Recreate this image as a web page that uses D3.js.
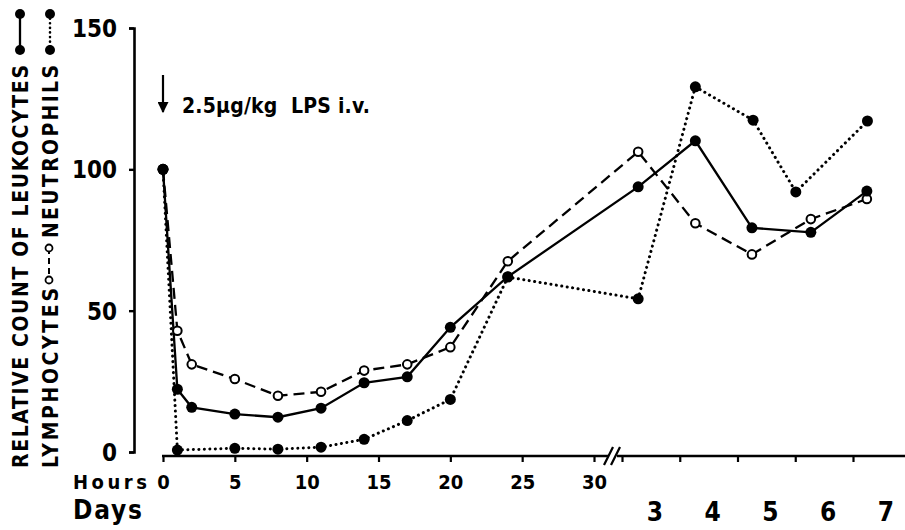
<!DOCTYPE html>
<html>
<head>
<meta charset="utf-8">
<script src="https://cdn.jsdelivr.net/npm/d3@7"></script>
<style>
  body { margin: 0; background: #fff; }
  svg text { font-family: 'DejaVu Sans Condensed', 'DejaVu Sans', sans-serif; font-weight: bold; }
</style>
</head>
<body>
<div id="chart"></div>
<script>
// values (relative count, start = 100)
const hourTicks = [0, 5, 10, 15, 20, 25, 30];
const dayTicks = [3, 4, 5, 6, 7];
const dayLabels = ['3', '4', '5', '6', '7'];
const yTicks = [0, 50, 100, 150];

const leukHours = [0, 1, 2, 5, 8, 11, 14, 17, 20, 24];
const leukHourValues = [100, 22.2, 15.8, 13.4, 12.3, 15.5, 24.5, 26.6, 44.1, 62.0];
const leukDays = [3.28, 4.27, 5.25, 6.27, 7.24];
const leukDayValues = [93.8, 110.1, 79.3, 77.7, 92.3];

const lymphHours = [0, 1, 2, 5, 8, 11, 14, 17, 20, 24];
const lymphHourValues = [100, 42.9, 31.0, 25.8, 19.9, 21.3, 28.8, 31.0, 37.1, 67.5];
const lymphDays = [3.28, 4.27, 5.25, 6.27, 7.24];
const lymphDayValues = [106.2, 80.9, 69.9, 82.4, 89.5];

const neutHours = [0, 1, 5, 8, 11, 14, 17, 20, 24];
const neutHourValues = [100, 0.7, 1.3, 1.0, 1.7, 4.5, 11.1, 18.6, 61.9];
const neutDays = [3.28, 4.27, 5.27, 6.01, 7.25];
const neutDayValues = [54.2, 129.2, 117.4, 92.0, 117.1];

const width = 905, height = 530;

const svg = d3.select('#chart').append('svg')
  .attr('width', width)
  .attr('height', height);

const xHours = d3.scaleLinear().domain([0, 30]).range([163, 594]);
const xDays = d3.scaleLinear().domain([3, 8]).range([622, 910.75]);
const y = d3.scaleLinear().domain([0, 150]).range([452, 28]);

const toPoints = (hrs, hv, days, dv) =>
  hrs.map((t, i) => ({ x: xHours(t), v: hv[i] }))
    .concat(days.map((t, i) => ({ x: xDays(t), v: dv[i] })));

const series = [
  { name: 'lymph', pts: toPoints(lymphHours, lymphHourValues, lymphDays, lymphDayValues), dash: '11,6', open: true },
  { name: 'neut', pts: toPoints(neutHours, neutHourValues, neutDays, neutDayValues), dash: '0.1,5.4', open: false },
  { name: 'leuk', pts: toPoints(leukHours, leukHourValues, leukDays, leukDayValues), dash: null, open: false }
];

// y axis
const yAxis = svg.append('g')
  .attr('transform', 'translate(134,0)')
  .call(d3.axisLeft(y).tickValues(yTicks).tickSize(5).tickSizeOuter(5).tickPadding(12));
yAxis.select('.domain').attr('stroke-width', 2.6);
yAxis.selectAll('.tick line').attr('stroke-width', 2.4);
yAxis.selectAll('text')
  .style('font-size', '24px')
  .attr('dy', '0.36em')
  .attr('fill', '#000');

// x axis, hours part
const xAxisH = svg.append('g')
  .attr('transform', 'translate(0,456)')
  .call(d3.axisBottom(xHours).tickValues(hourTicks).tickSize(6));
xAxisH.select('.domain').remove();
xAxisH.selectAll('.tick line').attr('stroke-width', 2.2);
xAxisH.selectAll('text')
  .attr('y', 33).attr('dy', 0)
  .style('font-size', '20px')
  .attr('fill', '#000');

// x axis, days part
const xAxisD = svg.append('g')
  .attr('transform', 'translate(0,456)')
  .call(d3.axisBottom(xDays).tickValues(dayTicks).tickSize(6).tickFormat(''));
xAxisD.select('.domain').remove();
xAxisD.selectAll('.tick line').attr('stroke-width', 2.2);

// axis line with break
svg.append('line').attr('x1', 162).attr('x2', 609).attr('y1', 456).attr('y2', 456)
  .attr('stroke', '#000').attr('stroke-width', 2.6);
svg.append('line').attr('x1', 617).attr('x2', 905).attr('y1', 456).attr('y2', 456)
  .attr('stroke', '#000').attr('stroke-width', 2.6);
[0, 7].forEach(o => {
  svg.append('line')
    .attr('x1', 604 + o).attr('y1', 465).attr('x2', 613 + o).attr('y2', 447)
    .attr('stroke', '#000').attr('stroke-width', 2.2);
});

svg.append('text')
  .attr('x', 73).attr('y', 489)
  .style('font-size', '20px')
  .attr('textLength', 74)
  .attr('lengthAdjust', 'spacing')
  .text('Hours');

svg.append('text')
  .attr('x', 73).attr('y', 519)
  .style('font-size', '26px')
  .attr('textLength', 69)
  .attr('lengthAdjust', 'spacing')
  .text('Days');

svg.selectAll('.dayLabel')
  .data(dayTicks)
  .enter().append('text')
  .attr('class', 'dayLabel')
  .attr('x', d => xDays(d + 0.57))
  .attr('y', 521)
  .attr('text-anchor', 'middle')
  .style('font-size', '26px')
  .text((d, i) => dayLabels[i]);

// LPS annotation
const defs = svg.append('defs');
defs.append('marker')
  .attr('id', 'arr')
  .attr('viewBox', '0 0 10 10')
  .attr('refX', 9).attr('refY', 5)
  .attr('markerWidth', 5).attr('markerHeight', 5)
  .attr('orient', 'auto')
  .append('path').attr('d', 'M0,0 L10,5 L0,10 Z').attr('fill', '#000');
svg.append('line')
  .attr('x1', xHours(0)).attr('y1', 75)
  .attr('x2', xHours(0)).attr('y2', 112)
  .attr('stroke', '#000').attr('stroke-width', 2.2)
  .attr('marker-end', 'url(#arr)');
svg.append('text')
  .attr('x', 182).attr('y', 113)
  .style('font-size', '21px')
  .attr('textLength', 188)
  .attr('lengthAdjust', 'spacing')
  .attr('xml:space', 'preserve')
  .text('2.5\u00b5g/kg  LPS i.v.');

// lines
const line = d3.line().x(d => d.x).y(d => y(d.v));
series.forEach(s => {
  svg.append('path')
    .datum(s.pts)
    .attr('d', line)
    .attr('fill', 'none')
    .attr('stroke', '#000')
    .attr('stroke-width', s.name === 'neut' ? 3 : 2.3)
    .attr('stroke-linecap', s.name === 'neut' ? 'round' : 'butt')
    .attr('stroke-dasharray', s.dash);
});

// markers: open circles first, filled on top
series.forEach(s => {
  svg.append('g').selectAll('circle')
    .data(s.pts)
    .enter().append('circle')
    .attr('cx', d => d.x)
    .attr('cy', d => y(d.v))
    .attr('r', s.open ? 4.3 : 5.5)
    .attr('fill', s.open ? '#fff' : '#000')
    .attr('stroke', '#000')
    .attr('stroke-width', s.open ? 2 : 0);
});

// rotated y labels with legend keys
const lab = (x, yStart, yEnd, txt) => {
  svg.append('text')
    .attr('transform', `translate(${x},${yStart}) rotate(-90)`)
    .style('font-size', '21px')
    .attr('textLength', yStart - yEnd)
    .attr('lengthAdjust', 'spacing')
    .text(txt);
};
lab(28, 468, 65, 'RELATIVE COUNT OF LEUKOCYTES');
lab(58, 468, 288, 'LYMPHOCYTES');
lab(58, 238, 65, 'NEUTROPHILS');

// key: solid with dots
svg.append('line').attr('x1', 20).attr('x2', 20).attr('y1', 14).attr('y2', 50)
  .attr('stroke', '#000').attr('stroke-width', 2.3);
[14, 50].forEach(v => svg.append('circle').attr('cx', 20).attr('cy', v).attr('r', 5));
// key: dotted with dots
svg.append('line').attr('x1', 50).attr('x2', 50).attr('y1', 14).attr('y2', 50)
  .attr('stroke', '#000').attr('stroke-width', 2.6)
  .attr('stroke-linecap', 'round').attr('stroke-dasharray', '0.1,4.5');
[14, 50].forEach(v => svg.append('circle').attr('cx', 50).attr('cy', v).attr('r', 5));
// key: dashed with open circles
svg.append('line').attr('x1', 49).attr('x2', 49).attr('y1', 248).attr('y2', 280)
  .attr('stroke', '#000').attr('stroke-width', 2)
  .attr('stroke-dasharray', '6,4');
[248, 280].forEach(v => svg.append('circle').attr('cx', 49).attr('cy', v).attr('r', 3.5)
  .attr('fill', '#fff').attr('stroke', '#000').attr('stroke-width', 1.8));
</script>
</body>
</html>
